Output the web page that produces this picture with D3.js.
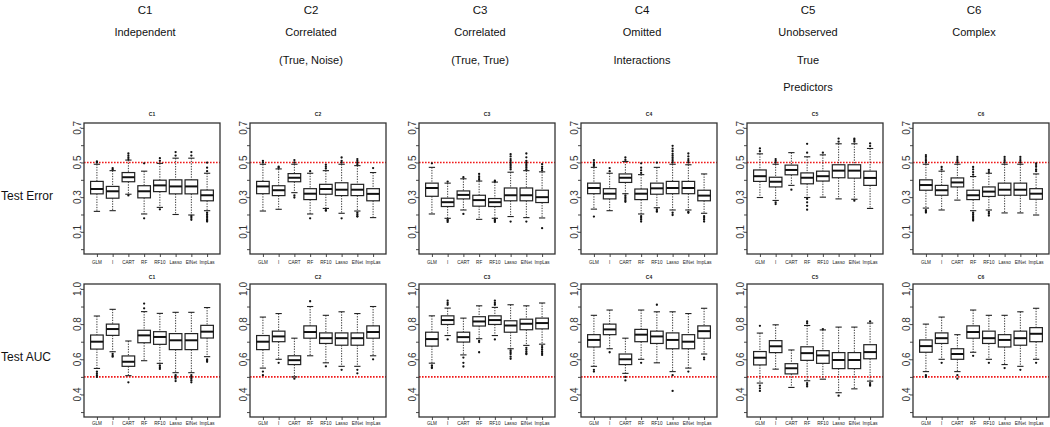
<!DOCTYPE html>
<html><head><meta charset="utf-8">
<script src="https://cdn.jsdelivr.net/npm/d3@7"></script>
<style>body{margin:0;background:#fff;}svg{display:block;}text{font-family:"Liberation Sans",Arial,Helvetica,sans-serif;}</style>
</head><body><svg id="c" width="1050" height="427"></svg>
<script>
const methods = ["GLM","I","CART","RF","RF10","Lasso","ElNet","ImpLas"];
const scenarios = ["C1","C2","C3","C4","C5","C6"];
const headers = [["Independent"],["Correlated","(True, Noise)"],["Correlated","(True, True)"],["Omitted","Interactions"],["Unobserved","True","Predictors"],["Complex"]];
const rowLabels = ["Test Error","Test AUC"];
const errTicks = [0,0.1,0.2,0.3,0.4,0.5,0.6,0.7];
const errTickLabels = [0.1,0.3,0.5,0.7];
const aucTicks = [0.3,0.4,0.5,0.6,0.7,0.8,0.9,1.0];
const aucTickLabels = [0.4,0.6,0.8,1.0];
const refLine = 0.5;

// Test Error: lower whisker, Q1, median, Q3, upper whisker, outliers (per scenario, per method)
const errLo = [
 [0.218,0.222,0.317,0.203,0.241,0.200,0.197,0.222],
 [0.220,0.230,0.326,0.203,0.235,0.207,0.220,0.182],
 [0.203,0.178,0.226,0.172,0.178,0.188,0.182,0.180],
 [0.231,0.222,0.320,0.203,0.239,0.226,0.226,0.207],
 [0.298,0.281,0.368,0.298,0.300,0.290,0.288,0.235],
 [0.237,0.226,0.283,0.222,0.226,0.209,0.209,0.197]];
const errQ1 = [
 [0.319,0.294,0.389,0.296,0.332,0.319,0.319,0.279],
 [0.320,0.309,0.389,0.286,0.317,0.309,0.309,0.279],
 [0.305,0.246,0.290,0.248,0.246,0.279,0.279,0.269],
 [0.320,0.290,0.385,0.286,0.317,0.320,0.320,0.279],
 [0.391,0.359,0.429,0.377,0.393,0.412,0.410,0.368],
 [0.340,0.311,0.359,0.286,0.304,0.311,0.311,0.288]];
const errMed = [
 [0.347,0.334,0.415,0.334,0.368,0.362,0.362,0.311],
 [0.362,0.340,0.412,0.320,0.347,0.343,0.343,0.319],
 [0.353,0.271,0.313,0.283,0.271,0.311,0.311,0.300],
 [0.353,0.320,0.412,0.320,0.351,0.353,0.353,0.309],
 [0.421,0.389,0.457,0.412,0.421,0.453,0.453,0.411],
 [0.370,0.340,0.385,0.311,0.332,0.343,0.343,0.320]];
const errQ3 = [
 [0.391,0.362,0.442,0.366,0.398,0.400,0.400,0.341],
 [0.391,0.366,0.436,0.349,0.374,0.383,0.374,0.349],
 [0.381,0.294,0.336,0.311,0.292,0.353,0.353,0.340],
 [0.381,0.349,0.434,0.347,0.381,0.391,0.391,0.340],
 [0.457,0.415,0.485,0.440,0.450,0.487,0.487,0.450],
 [0.400,0.368,0.411,0.340,0.359,0.381,0.381,0.349]];
const errHi = [
 [0.490,0.453,0.514,0.450,0.495,0.525,0.525,0.438],
 [0.490,0.463,0.490,0.438,0.453,0.490,0.482,0.442],
 [0.472,0.381,0.406,0.393,0.387,0.444,0.453,0.446],
 [0.472,0.438,0.506,0.430,0.472,0.490,0.487,0.434],
 [0.550,0.490,0.557,0.533,0.544,0.608,0.608,0.581],
 [0.490,0.450,0.490,0.419,0.438,0.490,0.490,0.434]];
const errOut = [
 [[0.50,0.506],[0.46,0.468],[0.52,0.53,0.54,0.552,0.31],[0.495,0.178],[0.51,0.525,0.23],[0.54,0.56],[0.54,0.56,0.19,0.18,0.169],[0.45,0.47,0.499,0.21,0.20,0.19,0.18,0.17,0.165,0.159]],
 [[0.50,0.51],[0.47,0.476],[0.50,0.514,0.31,0.298],[0.45,0.178],[0.465,0.475,0.487,0.225,0.222],[0.50,0.51,0.529,0.178],[0.49,0.50,0.51,0.52,0.21,0.20,0.19,0.188],[0.468]],
 [[0.495],[0.39,0.17,0.165,0.157],[0.415,0.203],[0.40,0.41,0.42,0.434],[0.39,0.396,0.17,0.165,0.157],[0.46,0.47,0.48,0.49,0.50,0.51,0.52,0.535,0.548,0.159],[0.46,0.47,0.48,0.49,0.50,0.51,0.53,0.552,0.159],[0.455,0.465,0.475,0.49,0.121]],
 [[0.48,0.49,0.50,0.514,0.188],[0.45,0.468],[0.515,0.529,0.31,0.30,0.29,0.28,0.273],[0.44,0.455,0.47,0.495,0.19,0.18,0.17,0.159],[0.499,0.23,0.22,0.216],[0.50,0.51,0.52,0.53,0.54,0.55,0.565,0.58,0.596,0.21,0.197],[0.50,0.51,0.52,0.535,0.552,0.215,0.21],[0.19,0.18,0.17,0.159]],
 [[0.565,0.581],[0.50,0.51,0.52,0.27,0.26],[0.343],[0.557,0.608,0.29,0.27,0.25,0.228],[0.557],[0.62,0.638],[0.62,0.63,0.638,0.28],[0.595,0.61]],
 [[0.50,0.51,0.52,0.532,0.543,0.225,0.218,0.211],[0.46,0.474],[0.50,0.51,0.52,0.532],[0.43,0.445,0.46,0.474,0.21,0.20,0.19,0.18,0.172,0.165],[0.445,0.457,0.215,0.205,0.194],[0.50,0.51,0.52,0.532],[0.50,0.51,0.52,0.532],[0.45,0.46,0.475,0.485,0.495]]];

// Test AUC
const aucLo = [
 [0.548,0.643,0.507,0.592,0.577,0.524,0.524,0.615],
 [0.550,0.600,0.500,0.620,0.580,0.560,0.560,0.620],
 [0.578,0.735,0.625,0.717,0.735,0.660,0.679,0.686],
 [0.560,0.660,0.520,0.600,0.580,0.530,0.550,0.630],
 [0.465,0.544,0.440,0.478,0.487,0.410,0.432,0.476],
 [0.530,0.600,0.530,0.640,0.600,0.570,0.560,0.600]];
const aucQ1 = [
 [0.658,0.736,0.560,0.694,0.685,0.655,0.655,0.721],
 [0.655,0.700,0.570,0.720,0.690,0.680,0.680,0.720],
 [0.675,0.798,0.698,0.789,0.798,0.754,0.768,0.773],
 [0.670,0.740,0.570,0.700,0.690,0.660,0.660,0.720],
 [0.568,0.638,0.517,0.594,0.577,0.547,0.547,0.603],
 [0.640,0.690,0.600,0.720,0.690,0.670,0.680,0.700]];
const aucMed = [
 [0.700,0.772,0.586,0.736,0.727,0.708,0.708,0.757],
 [0.700,0.730,0.595,0.755,0.720,0.720,0.720,0.755],
 [0.715,0.823,0.726,0.815,0.823,0.792,0.802,0.806],
 [0.710,0.770,0.600,0.740,0.730,0.710,0.700,0.760],
 [0.609,0.674,0.549,0.635,0.622,0.596,0.596,0.641],
 [0.675,0.720,0.630,0.755,0.720,0.710,0.720,0.745]];
const aucQ3 = [
 [0.738,0.800,0.619,0.765,0.757,0.746,0.746,0.793],
 [0.735,0.760,0.620,0.790,0.750,0.750,0.750,0.790],
 [0.754,0.847,0.754,0.842,0.847,0.819,0.828,0.834],
 [0.740,0.800,0.630,0.770,0.760,0.750,0.740,0.790],
 [0.644,0.706,0.575,0.671,0.649,0.638,0.638,0.683],
 [0.710,0.750,0.660,0.790,0.760,0.740,0.760,0.780]];
const aucHi = [
 [0.846,0.884,0.704,0.871,0.861,0.867,0.867,0.894],
 [0.840,0.860,0.720,0.900,0.850,0.870,0.860,0.900],
 [0.847,0.891,0.834,0.904,0.895,0.910,0.904,0.920],
 [0.850,0.880,0.720,0.880,0.870,0.870,0.860,0.890],
 [0.749,0.796,0.653,0.792,0.767,0.783,0.783,0.806],
 [0.800,0.840,0.740,0.880,0.850,0.850,0.870,0.890]];
const aucOut = [
 [[0.53,0.52,0.51,0.50],[0.63,0.62,0.615],[0.469],[0.89,0.917],[0.565,0.555,0.545],[0.51,0.50,0.49,0.476],[0.51,0.50,0.49,0.48,0.469],[0.60,0.595,0.586]],
 [[0.53,0.51],[0.58],[0.49],[0.93],[0.56],[0.54],[0.54,0.52],[0.60]],
 [[0.565,0.555,0.55],[0.91,0.92,0.933,0.713],[0.61,0.58,0.559],[0.705,0.698,0.64],[0.91,0.92,0.933,0.713],[0.65,0.64,0.63,0.615,0.603],[0.665,0.655,0.645,0.635,0.629],[0.675,0.665,0.655,0.645,0.635,0.625]],
 [[0.54,0.53],[0.64],[0.50,0.48],[0.58],[0.91],[0.42,0.51],[0.53],[0.61,0.60]],
 [[0.79,0.45,0.435,0.42],[],[],[0.805,0.815,0.465,0.455,0.446],[0.772],[0.393],[],[0.815,0.465,0.455,0.45]],
 [[0.51,0.50],[0.58],[0.51,0.49],[0.62],[0.58],[0.55],[0.54],[0.58]]];

const svg = d3.select("#c");
const panelLefts = [84,250,419,581,747,913];
const panelW = 136;
const rows = [
 {top:123,bottom:254,domain:[-0.028,0.728],ticks:errTicks,labels:errTickLabels,lo:errLo,q1:errQ1,med:errMed,q3:errQ3,hi:errHi,out:errOut,labelY:196,titleY:116,xlabY:264},
 {top:284,bottom:417,domain:[0.272,1.028],ticks:aucTicks,labels:aucTickLabels,lo:aucLo,q1:aucQ1,med:aucMed,q3:aucQ3,hi:aucHi,out:aucOut,labelY:357,titleY:279,xlabY:425}
];
const fmt = d3.format(".1f");

// column headers
scenarios.forEach((s,i)=>{
  const cx = panelLefts[i]+61;
  svg.append("text").attr("x",cx).attr("y",14).attr("text-anchor","middle").attr("font-size",11.5).attr("fill","#111").text(s);
  headers[i].forEach((h,j)=>{
    svg.append("text").attr("x",cx).attr("y",36+j*27.5).attr("text-anchor","middle").attr("font-size",11).attr("fill","#111").text(h);
  });
});

rows.forEach((r,ri)=>{
  svg.append("text").attr("x",1).attr("y",r.labelY+4).attr("font-size",12).attr("fill","#111").text(rowLabels[ri]);
  scenarios.forEach((s,pi)=>{
    const L = panelLefts[pi];
    const x = d3.scaleLinear().domain([0.18,8.82]).range([L,L+panelW]);
    const y = d3.scaleLinear().domain(r.domain).range([r.bottom,r.top]);
    const g = svg.append("g");
    // y axis
    const yAxis = d3.axisLeft(y).tickValues(r.ticks).tickSize(3).tickFormat("");
    const ya = g.append("g").attr("transform",`translate(${L},0)`).call(yAxis);
    ya.select(".domain").remove();
    ya.selectAll("line").attr("stroke","#333").attr("stroke-width",0.9);
    r.labels.forEach(v=>{
      g.append("text").attr("transform",`translate(${L-3.5},${y(v)}) rotate(-90)`)
        .attr("text-anchor","middle").attr("font-size",10).attr("fill","#333").text(fmt(v));
    });
    // x axis
    const xAxis = d3.axisBottom(x).tickValues(d3.range(1,9)).tickSize(3).tickFormat("");
    const xa = g.append("g").attr("transform",`translate(0,${r.bottom})`).call(xAxis);
    xa.select(".domain").remove();
    xa.selectAll("line").attr("stroke","#333").attr("stroke-width",0.9);
    methods.forEach((m,mi)=>{
      g.append("text").attr("x",x(mi+1)).attr("y",r.xlabY).attr("text-anchor","middle").attr("font-size",4.6).attr("fill","#222").text(m);
    });
    // title
    g.append("text").attr("x",L+panelW/2).attr("y",r.titleY).attr("text-anchor","middle").attr("font-size",5).attr("font-weight","bold").attr("fill","#222").text(s);
    // reference line
    g.append("line").attr("x1",L).attr("x2",L+panelW).attr("y1",y(refLine)).attr("y2",y(refLine))
      .attr("stroke","#f01818").attr("stroke-width",1.7).attr("stroke-dasharray","1.6,1.4");
    // boxes
    const bw = x(1.4)-x(1);
    methods.forEach((m,mi)=>{
      const cx = x(mi+1);
      const lo=r.lo[pi][mi], q1=r.q1[pi][mi], md=r.med[pi][mi], q3=r.q3[pi][mi], hi=r.hi[pi][mi];
      g.append("line").attr("x1",cx).attr("x2",cx).attr("y1",y(hi)).attr("y2",y(q3)).attr("stroke","#222").attr("stroke-width",0.9).attr("stroke-dasharray","1.3,1.3");
      g.append("line").attr("x1",cx).attr("x2",cx).attr("y1",y(q1)).attr("y2",y(lo)).attr("stroke","#222").attr("stroke-width",0.9).attr("stroke-dasharray","1.3,1.3");
      g.append("line").attr("x1",cx-bw/2).attr("x2",cx+bw/2).attr("y1",y(hi)).attr("y2",y(hi)).attr("stroke","#222").attr("stroke-width",1.1);
      g.append("line").attr("x1",cx-bw/2).attr("x2",cx+bw/2).attr("y1",y(lo)).attr("y2",y(lo)).attr("stroke","#222").attr("stroke-width",1.1);
      g.append("rect").attr("x",cx-bw).attr("y",y(q3)).attr("width",2*bw).attr("height",y(q1)-y(q3))
        .attr("fill","#fff").attr("stroke","#222").attr("stroke-width",1.2);
      g.append("line").attr("x1",cx-bw).attr("x2",cx+bw).attr("y1",y(md)).attr("y2",y(md)).attr("stroke","#111").attr("stroke-width",2);
      r.out[pi][mi].forEach(v=>{
        g.append("circle").attr("cx",cx).attr("cy",y(v)).attr("r",1.15).attr("fill","#111");
      });
    });
    // frame
    g.append("rect").attr("x",L).attr("y",r.top).attr("width",panelW).attr("height",r.bottom-r.top)
      .attr("fill","none").attr("stroke","#333").attr("stroke-width",1.3);
  });
});
</script></body></html>
